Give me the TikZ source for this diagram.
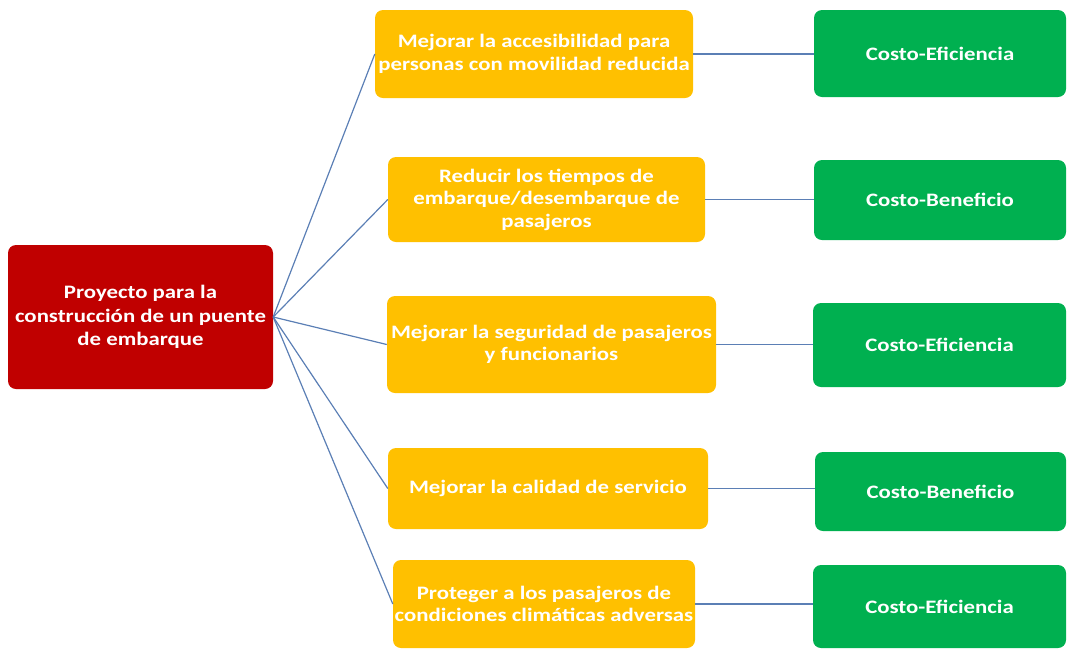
\documentclass[tikz,border=0pt]{standalone}
\usepackage{fontspec}
\setmainfont{Carlito}
\newfontfamily\boxfont[FakeStretch=1.2]{Carlito}
\definecolor{cred}{HTML}{C00000}
\definecolor{cyel}{HTML}{FFC000}
\definecolor{cgrn}{HTML}{00B050}
\definecolor{cline}{HTML}{5B7FB5}
\tikzset{
  box/.style={rounded corners=8pt, inner sep=0pt, align=center, text=white,
    font=\boxfont\bfseries\fontsize{19}{22.5}\selectfont},
  rbox/.style={box, fill=cred},
  ybox/.style={box, fill=cyel},
  gbox/.style={box, fill=cgrn},
  link/.style={draw=cline, line width=1.2pt}
}
\begin{document}
\begin{tikzpicture}[x=1pt,y=-1pt]
\useasboundingbox (0,0) rectangle (1068,649);
\node[rbox, minimum width=265pt, minimum height=144pt, font=\boxfont\bfseries\fontsize{19}{23.5}\selectfont] (r) at (140.5,317) {Proyecto para la\\construcción de un puente\\de embarque};
\node[ybox, minimum width=318pt, minimum height=88pt] (y1) at (534,54) {Mejorar la accesibilidad para\\personas con movilidad reducida};
\node[ybox, minimum width=317pt, minimum height=85pt] (y2) at (546.5,199.5) {Reducir los tiempos de\\embarque/desembarque de\\pasajeros};
\node[ybox, minimum width=329pt, minimum height=97pt] (y3) at (551.5,344.5) {Mejorar la seguridad de pasajeros\\y funcionarios};
\node[ybox, minimum width=320pt, minimum height=81pt] (y4) at (548,488.5) {Mejorar la calidad de servicio};
\node[ybox, minimum width=302pt, minimum height=88pt] (y5) at (544,604) {Proteger a los pasajeros de\\condiciones climáticas adversas};
\node[gbox, minimum width=252pt, minimum height=87pt] (g1) at (940,53.5) {Costo-Eficiencia};
\node[gbox, minimum width=252pt, minimum height=80pt] (g2) at (940,200) {Costo-Beneficio};
\node[gbox, minimum width=253pt, minimum height=84pt] (g3) at (939.5,345) {Costo-Eficiencia};
\node[gbox, minimum width=251pt, minimum height=79pt] (g4) at (940.5,491.5) {Costo-Beneficio};
\node[gbox, minimum width=253pt, minimum height=83pt] (g5) at (939.5,606.5) {Costo-Eficiencia};
\foreach \i in {1,...,5} {
  \draw[link] (r.east) -- (y\i.west);
  \draw[link] (y\i.east) -- (y\i.east -| g\i.west);
}
\end{tikzpicture}
\end{document}
